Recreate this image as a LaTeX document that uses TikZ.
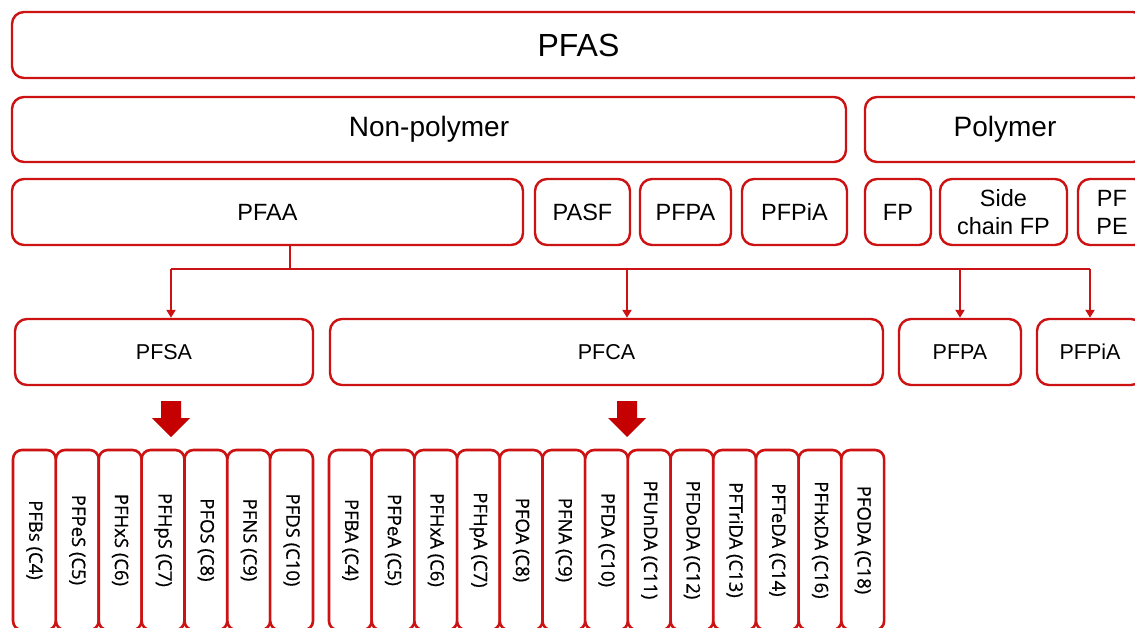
\documentclass[tikz,border=0pt]{standalone}
\usepackage{fontspec}
\setmainfont{Liberation Sans}
\newfontfamily\vfont[FakeBold=0.6]{Open Sans}
\usetikzlibrary{arrows.meta}
\definecolor{pfred}{RGB}{204,18,18}
\definecolor{pfdark}{RGB}{196,0,0}
\tikzset{
  box/.style={draw=pfred, line width=2.4pt, rounded corners=12pt, fill=white, inner sep=0pt, align=center, text=black},
  vbox/.style={draw=pfred, line width=2.6pt, rounded corners=9pt, fill=white, inner sep=0pt,
     minimum width=42.8pt, minimum height=180pt},
  vtext/.style={rotate=-90, font=\vfont\fontsize{18.5}{20}\selectfont, inner sep=0pt},
  conn/.style={draw=pfred, line width=2.2pt},
  connarrow/.style={conn, -{Triangle[length=8pt,width=9pt]}},
  blockarrow/.style={fill=pfdark, draw=none},
}
\begin{document}
\begin{tikzpicture}[x=1pt,y=-1pt]
\useasboundingbox (0,0) rectangle (1135,627);
\clip (0,0) rectangle (1135,627);
\fill[white] (0,0) rectangle (1135,627);
% row 1
\node[box, minimum width=1133pt, minimum height=66pt, font=\fontsize{32}{36}\selectfont] (pfas) at (578.5,45) {PFAS};
% row 2
\node[box, minimum width=834pt, minimum height=65pt, font=\fontsize{28}{32}\selectfont] (nonpoly) at (429,129.5) {Non-polymer};
\node[box, minimum width=280pt, minimum height=65pt, font=\fontsize{28}{32}\selectfont] (poly) at (1005,129.5) {Polymer};
% row 3
\tikzset{r3/.style={box, minimum height=66pt, font=\fontsize{23.5}{28}\selectfont}}
\node[r3, minimum width=511pt] (pfaa) at (267.5,212) {PFAA};
\node[r3, minimum width=95pt] (pasf) at (582.5,212) {PASF};
\node[r3, minimum width=91pt] (pfpa) at (685.5,212) {PFPA};
\node[r3, minimum width=105pt] (pfpia) at (794.5,212) {PFPiA};
\node[r3, minimum width=66pt] (fp) at (898,212) {FP};
\node[r3, minimum width=127pt] (scfp) at (1003.5,212) {Side\\chain FP};
\node[r3, minimum width=68pt] (pfpe) at (1112,212) {PF\\PE};
% row 4
\tikzset{r4/.style={box, minimum height=66pt, font=\fontsize{21.5}{26}\selectfont}}
\node[r4, minimum width=298pt] (pfsa) at (164,352) {PFSA};
\node[r4, minimum width=553pt] (pfca) at (606.5,352) {PFCA};
\node[r4, minimum width=122pt] (pfpab) at (960,352) {PFPA};
\node[r4, minimum width=106pt] (pfpib) at (1090,352) {PFPiA};
% connectors
\coordinate (j0) at (290,269);
\coordinate (a1) at (171,269);
\coordinate (a2) at (627,269);
\coordinate (a3) at (960,269);
\coordinate (a4) at (1090,269);
\draw[conn] (j0 |- pfaa.south) -- (j0);
\draw[conn] (a1) -- (a4);
\draw[connarrow] (a1) -- (a1 |- pfsa.north);
\draw[connarrow] (a2) -- (a2 |- pfca.north);
\draw[connarrow] (a3) -- (a3 |- pfpab.north);
\draw[connarrow] (a4) -- (a4 |- pfpib.north);
% block arrows
\foreach \cx in {171,627}{
  \fill[blockarrow] (\cx-10,401) -- (\cx+10,401) -- (\cx+10,418) -- (\cx+19,418) -- (\cx,437) -- (\cx-19,418) -- (\cx-10,418) -- cycle;
}
% row 5 left
\foreach \lab [count=\i from 0] in {PFBs (C4),PFPeS (C5),PFHxS (C6),PFHpS (C7),PFOS (C8),PFNS (C9),PFDS (C10)}{
  \node[vbox] (s\i) at ({13+42.86*(\i+0.5)},540) {};
  \node[vtext] (st\i) at (s\i.center) {\lab};
}
% row 5 right
\foreach \lab [count=\i from 0] in {PFBA (C4),PFPeA (C5),PFHxA (C6),PFHpA (C7),PFOA (C8),PFNA (C9),PFDA (C10),PFUnDA (C11),PFDoDA (C12),PFTriDA (C13),PFTeDA (C14),PFHxDA (C16),PFODA (C18)}{
  \node[vbox] (c\i) at ({329+42.7*(\i+0.5)},540) {};
  \node[vtext] (ct\i) at (c\i.center) {\lab};
}
\end{tikzpicture}
\end{document}
